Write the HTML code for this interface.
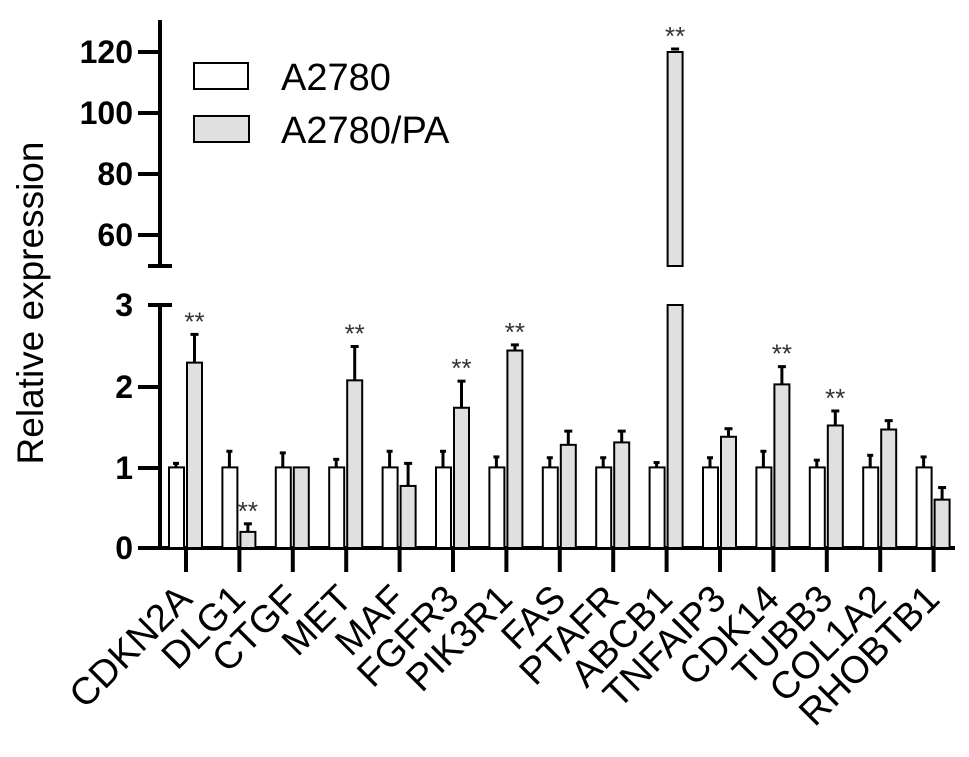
<!DOCTYPE html>
<html><head><meta charset="utf-8"><style>
html,body{margin:0;padding:0;background:#fff;}
svg{display:block;font-family:"Liberation Sans",Arial,sans-serif;}
</style></head><body>
<svg id="s" width="969" height="757" viewBox="0 0 969 757" xmlns="http://www.w3.org/2000/svg">
<g stroke="#000" stroke-width="4" fill="none">
<line x1="160" y1="20" x2="160" y2="266"/>
<line x1="148" y1="266" x2="172" y2="266"/>
<line x1="160" y1="305" x2="160" y2="548"/>
<line x1="148" y1="305" x2="172" y2="305"/>
<line x1="138" y1="548" x2="955" y2="548"/>
<line x1="138" y1="52" x2="160" y2="52"/><line x1="138" y1="113" x2="160" y2="113"/>
<line x1="138" y1="174" x2="160" y2="174"/><line x1="138" y1="235" x2="160" y2="235"/>
<line x1="138" y1="387" x2="160" y2="387"/><line x1="138" y1="468" x2="160" y2="468"/>
</g>
<g font-weight="bold" font-size="32" text-anchor="end">
<text x="133" y="63">120</text><text x="133" y="124">100</text>
<text x="133" y="185">80</text><text x="133" y="246">60</text>
<text x="133" y="316">3</text><text x="133" y="398">2</text>
<text x="133" y="479">1</text><text x="133" y="559">0</text>
</g>
<text transform="translate(43,303) rotate(-90)" font-size="37" text-anchor="middle">Relative expression</text>
<rect x="194" y="63" width="54" height="26" fill="#fff" stroke="#000" stroke-width="2"/>
<rect x="194" y="116" width="55" height="26" fill="#e0e0e0" stroke="#000" stroke-width="2"/>
<text x="281" y="90" font-size="38">A2780</text>
<text x="281" y="143" font-size="38">A2780/PA</text>
<g id="bars"></g>
</svg>
<script>
(function(){
var names=["CDKN2A","DLG1","CTGF","MET","MAF","FGFR3","PIK3R1","FAS","PTAFR","ABCB1","TNFAIP3","CDK14","TUBB3","COL1A2","RHOBTB1"];
var g=[2.3,0.2,1.0,2.08,0.77,1.74,2.45,1.28,1.31,120,1.38,2.03,1.52,1.47,0.6];
var ge=[2.65,0.3,1.0,2.5,1.05,2.07,2.52,1.45,1.45,121,1.48,2.25,1.7,1.58,0.75];
var we=[1.05,1.2,1.18,1.1,1.2,1.2,1.13,1.12,1.12,1.06,1.12,1.2,1.09,1.15,1.13];
var star=[1,1,0,1,0,1,1,0,0,1,0,1,1,0,0];
function Y(v){return 548-v*80.6;}
var h="";
for(var i=0;i<15;i++){
 var t=186+53.4*i;
 h+='<line x1="'+t+'" y1="548" x2="'+t+'" y2="572" stroke="#000" stroke-width="4"/>';
 h+='<line x1="'+(t-10)+'" y1="'+Y(we[i])+'" x2="'+(t-10)+'" y2="'+Y(1)+'" stroke="#000" stroke-width="3"/>';
 h+='<line x1="'+(t-13)+'" y1="'+Y(we[i])+'" x2="'+(t-7)+'" y2="'+Y(we[i])+'" stroke="#000" stroke-width="3"/>';
 h+='<rect x="'+(t-17)+'" y="'+Y(1)+'" width="15" height="'+(548-Y(1))+'" fill="#fff" stroke="#000" stroke-width="2"/>';
 var cx=t+8.5, bt, et;
 if(i==9){
  h+='<rect x="'+(t+1)+'" y="305" width="15" height="243" fill="#e0e0e0" stroke="#000" stroke-width="2"/>';
  h+='<rect x="'+(t+1)+'" y="52" width="15" height="214" fill="#e0e0e0" stroke="#000" stroke-width="2"/>';
  h+='<line x1="'+(cx-4)+'" y1="49" x2="'+(cx+4)+'" y2="49" stroke="#000" stroke-width="3"/>';
  et=49;
 } else {
  bt=Y(g[i]); et=Y(ge[i]);
  if(ge[i]>g[i]){
   h+='<line x1="'+cx+'" y1="'+et+'" x2="'+cx+'" y2="'+bt+'" stroke="#000" stroke-width="3"/>';
   h+='<line x1="'+(cx-4)+'" y1="'+et+'" x2="'+(cx+4)+'" y2="'+et+'" stroke="#000" stroke-width="3"/>';
  }
  h+='<rect x="'+(t+1)+'" y="'+bt+'" width="15" height="'+(548-bt)+'" fill="#e0e0e0" stroke="#000" stroke-width="2"/>';
 }
 if(star[i]) h+='<text x="'+cx+'" y="'+(et-4)+'" font-size="26" fill="#333" text-anchor="middle">**</text>';
 h+='<text transform="translate('+(t+8)+',601) rotate(-45)" font-size="38" text-anchor="end">'+names[i]+'</text>';
}
document.getElementById("bars").innerHTML=h;
})();
</script>
</body></html>
